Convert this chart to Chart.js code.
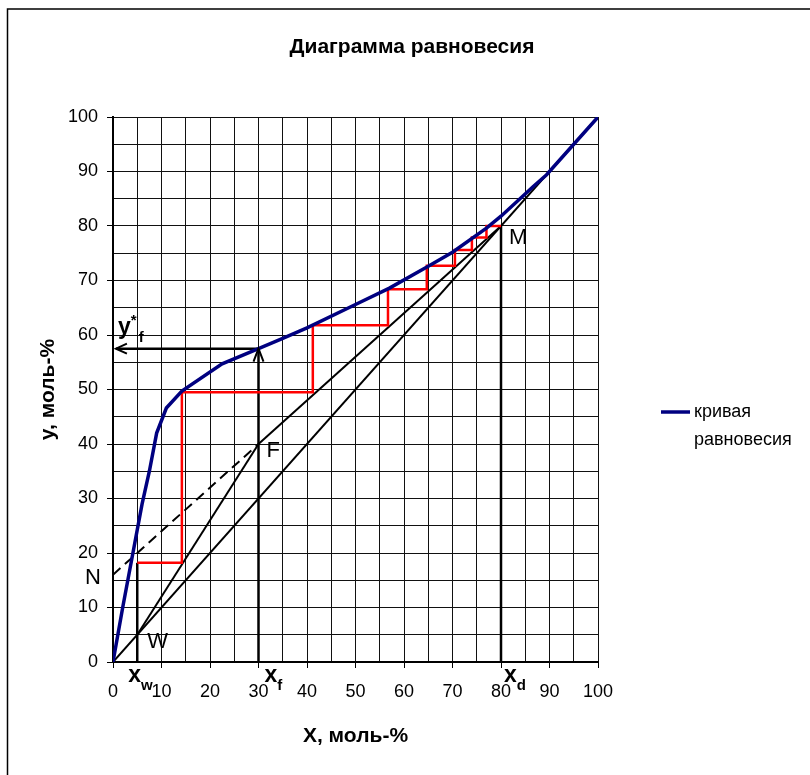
<!DOCTYPE html>
<html>
<head>
<meta charset="utf-8">
<script src="https://cdn.jsdelivr.net/npm/chart.js@4"></script>
<style>
  body { margin: 0; background: #fff; }
  #wrap { width: 810px; height: 775px; }
</style>
</head>
<body>
<div id="wrap"><canvas id="chart" width="810" height="775"></canvas></div>
<script>
"use strict";

// кривая равновесия (x, y в моль-%)
const eqX = [0, 2, 4, 6, 7.5, 9, 11, 14.2, 22.5, 30, 35, 40, 50, 57, 65, 70, 77, 80, 86.6, 89.4, 95, 100];
const eqY = [0, 10, 19.5, 29, 35, 42, 46.6, 49.7, 54.7, 57.5, 59.4, 61.3, 65.6, 68.6, 72.6, 75.2, 79.6, 81.8, 87.2, 89.4, 95, 100];

// диагональ и рабочие линии
const diagX = [0, 100], diagY = [0, 100];
const rectX = [30, 80], rectY = [40, 80];      // F - M
const dashX = [0, 30], dashY = [16, 40];       // N - F
const stripX = [5, 30], stripY = [5, 40];      // W - F

// ступени
const stepX = [80, 77, 77, 74, 74, 70.5, 70.5, 64.7, 64.7, 56.7, 56.7, 41.2, 41.2, 14.2, 14.2, 5];
const stepY = [80, 80, 77.9, 77.9, 75.6, 75.6, 72.7, 72.7, 68.4, 68.4, 61.8, 61.8, 49.5, 49.5, 18.2, 18.2];

// вертикали x_w, x_f, x_d и горизонталь y*_f
const xwX = [5, 5], xwY = [0, 18.2];
const xfX = [30, 30], xfY = [0, 57.5];
const xdX = [80, 80], xdY = [0, 80];
const yfX = [30, 0.6], yfY = [57.5, 57.5];

// точки с подписями
const markNames = ["M", "F", "W", "N"];
const markX = [80, 30, 5, 0];
const markY = [80, 40, 5, 16];

const xTicks = [0, 10, 20, 30, 40, 50, 60, 70, 80, 90, 100];

const FONT = "'Liberation Sans', Arial, sans-serif";

function pts(xs, ys) {
  return xs.map((v, i) => ({ x: v, y: ys[i] }));
}

function line(data, color, width, extra) {
  return Object.assign({
    data: data,
    showLine: true,
    borderColor: color,
    backgroundColor: color,
    borderWidth: width,
    pointRadius: 0,
    fill: false
  }, extra || {});
}

function arrowHead(ctx, tx, ty, dx, dy, len, half) {
  const bx = tx - dx * len, by = ty - dy * len;
  ctx.beginPath();
  ctx.moveTo(bx - dy * half, by + dx * half);
  ctx.lineTo(tx, ty);
  ctx.lineTo(bx + dy * half, by - dx * half);
  ctx.stroke();
}

function subText(ctx, main, sub, sup, x, baseline) {
  ctx.font = "bold 23px " + FONT;
  ctx.textAlign = "left";
  ctx.textBaseline = "alphabetic";
  ctx.fillText(main, x, baseline);
  const w = ctx.measureText(main).width;
  ctx.font = "bold 15px " + FONT;
  if (sup) ctx.fillText(sup, x + w, baseline - 9);
  ctx.fillText(sub, x + w + (sup ? 8 : 0), baseline + 8);
}

const decor = {
  id: "decor",
  afterDraw(chart) {
    const { ctx, scales } = chart;
    const px = v => scales.x.getPixelForValue(v);
    const py = v => scales.y.getPixelForValue(v);
    ctx.save();

    // рамка
    ctx.strokeStyle = "#000";
    ctx.lineWidth = 1.5;
    ctx.beginPath();
    ctx.moveTo(7.5, 775);
    ctx.lineTo(7.5, 9);
    ctx.lineTo(810, 9);
    ctx.stroke();

    // заголовок
    ctx.fillStyle = "#000";
    ctx.font = "bold 21px " + FONT;
    ctx.textAlign = "center";
    ctx.textBaseline = "middle";
    ctx.fillText("Диаграмма равновесия", 412, 47);

    // стрелки
    ctx.lineWidth = 2;
    arrowHead(ctx, px(xfX[1]), py(xfY[1]), 0, -1, 13, 5);
    arrowHead(ctx, px(yfX[1]), py(yfY[1]), -1, 0, 11, 5);

    // подписи точек
    ctx.font = "22px " + FONT;
    ctx.textBaseline = "middle";
    const offs = [[8, 12], [8, 7], [10, 7], [-12, 3]];
    markNames.forEach((n, i) => {
      ctx.textAlign = offs[i][0] < 0 ? "right" : "left";
      ctx.fillText(n, px(markX[i]) + offs[i][0], py(markY[i]) + offs[i][1]);
    });

    // x_w, x_f, x_d, y*_f
    const base = py(0) + 20;
    subText(ctx, "x", "w", null, px(xwX[0]) - 9, base);
    subText(ctx, "x", "f", null, px(xfX[0]) + 6, base);
    subText(ctx, "x", "d", null, px(xdX[0]) + 3, base);
    subText(ctx, "y", "f", "*", px(0) + 5, py(yfY[0]) - 15);

    // легенда
    const ds = chart.data.datasets[0];
    ctx.strokeStyle = ds.borderColor;
    ctx.lineWidth = ds.borderWidth;
    ctx.beginPath();
    ctx.moveTo(661, 412);
    ctx.lineTo(690, 412);
    ctx.stroke();
    ctx.fillStyle = "#000";
    ctx.font = "18px " + FONT;
    ctx.textAlign = "left";
    ctx.textBaseline = "middle";
    ds.label.split(" ").forEach((t, i) => ctx.fillText(t, 694, 412 + i * 28));

    ctx.restore();
  }
};

const tickColor = c => (c.tick && c.tick.value % 10 === 0) ? "#000" : "rgba(0,0,0,0)";

new Chart(document.getElementById("chart"), {
  type: "scatter",
  data: {
    datasets: [
      line(pts(eqX, eqY), "#000080", 3.5, { label: "кривая равновесия" }),
      line(pts(stepX, stepY), "#ff0000", 2.5, { label: "ступени" }),
      line(pts(diagX, diagY), "#000", 2, { label: "диагональ" }),
      line(pts(rectX, rectY), "#000", 2, { label: "укрепляющая" }),
      line(pts(dashX, dashY), "#000", 2, { label: "N-F", borderDash: [10, 6] }),
      line(pts(stripX, stripY), "#000", 2, { label: "исчерпывающая" }),
      line(pts(xwX, xwY), "#000", 2.5, { label: "xw" }),
      line(pts(xfX, xfY), "#000", 2.5, { label: "xf" }),
      line(pts(xdX, xdY), "#000", 2.5, { label: "xd" }),
      line(pts(yfX, yfY), "#000", 2.5, { label: "y*f" })
    ]
  },
  options: {
    responsive: false,
    animation: false,
    layout: { padding: { top: 117, right: 212, left: 0, bottom: 0 } },
    plugins: {
      legend: { display: false },
      title: { display: false },
      tooltip: { enabled: false }
    },
    scales: {
      x: {
        type: "linear",
        min: 0,
        max: 100,
        ticks: {
          stepSize: 5,
          autoSkip: false,
          maxRotation: 0,
          padding: 13,
          color: "#000",
          font: { family: FONT, size: 18 },
          callback: v => xTicks.includes(v) ? v : ""
        },
        grid: { color: "#111", lineWidth: 1, tickLength: 6, tickColor: tickColor },
        border: { color: "#000", width: 2 },
        title: {
          display: true,
          text: "X, моль-%",
          color: "#000",
          font: { family: FONT, size: 21, weight: "bold" },
          padding: { top: 0, bottom: 26 }
        },
        afterFit: s => { s.height = 113; }
      },
      y: {
        type: "linear",
        min: 0,
        max: 100,
        ticks: {
          stepSize: 5,
          autoSkip: false,
          padding: 9,
          color: "#000",
          font: { family: FONT, size: 18 },
          callback: v => xTicks.includes(v) ? v : ""
        },
        grid: { color: "#111", lineWidth: 1, tickLength: 6, tickColor: tickColor },
        border: { color: "#000", width: 2 },
        title: {
          display: true,
          text: "y, моль-%",
          color: "#000",
          font: { family: FONT, size: 21, weight: "bold" },
          padding: { top: 36, bottom: 0 }
        },
        afterFit: s => { s.width = 113; }
      }
    }
  },
  plugins: [decor]
});
</script>
</body>
</html>
